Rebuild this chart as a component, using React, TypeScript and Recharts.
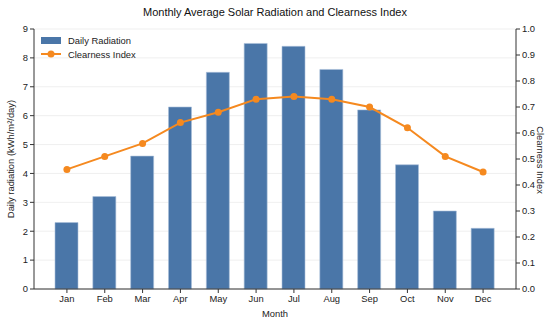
import { ComposedChart, Bar, Line, XAxis, YAxis, CartesianGrid } from 'recharts'

const months = ['Jan', 'Feb', 'Mar', 'Apr', 'May', 'Jun', 'Jul', 'Aug', 'Sep', 'Oct', 'Nov', 'Dec']
const radiation = [2.3, 3.2, 4.6, 6.3, 7.5, 8.5, 8.4, 7.6, 6.2, 4.3, 2.7, 2.1]
const clearness = [0.46, 0.51, 0.56, 0.64, 0.68, 0.73, 0.74, 0.73, 0.7, 0.62, 0.51, 0.45]
const leftTicks = [0, 1, 2, 3, 4, 5, 6, 7, 8, 9]
const rightTicks = [0, 0.1, 0.2, 0.3, 0.4, 0.5, 0.6, 0.7, 0.8, 0.9, 1.0]

const BLUE = '#4a76a8'
const ORANGE = '#f5891f'
const AXIS = '#333333'
const FONT = '"Liberation Sans", Arial, sans-serif'
const FS = 9.4

const data = months.map((m, i) => ({ month: m, radiation: radiation[i], clearness: clearness[i] }))

const tickStyle = { fontSize: FS, fill: '#222', fontFamily: FONT }

const textStyle = { position: 'absolute' as const, fontFamily: FONT, fontSize: FS, color: '#222', whiteSpace: 'nowrap' as const }

function LegendBox() {
  return (
    <div style={{ position: 'absolute', left: 41, top: 34, fontFamily: FONT, fontSize: FS, color: '#222', lineHeight: '13.5px' }}>
      <div style={{ display: 'flex', alignItems: 'center', height: 13.5 }}>
        <svg width={20} height={10} style={{ marginRight: 7 }}>
          <rect x={0} y={1} width={20} height={7} fill={BLUE} />
        </svg>
        Daily Radiation
      </div>
      <div style={{ display: 'flex', alignItems: 'center', height: 13.5 }}>
        <svg width={20} height={10} style={{ marginRight: 7 }}>
          <line x1={0} y1={5} x2={20} y2={5} stroke={ORANGE} strokeWidth={2} />
          <circle cx={10} cy={5} r={3.5} fill={ORANGE} />
        </svg>
        Clearness Index
      </div>
    </div>
  )
}

export default function App() {
  return (
    <div style={{ position: 'fixed', left: 0, top: 0, width: 550, height: 324, background: '#fff' }}>
      <ComposedChart width={550} height={324} data={data} margin={{ top: 29, right: 0, bottom: 0, left: 0 }}>
        <CartesianGrid yAxisId="left" vertical={false} stroke="#ebebeb" strokeWidth={0.8} />
        <XAxis
          dataKey="month"
          height={35}
          padding={{ left: 14, right: 14 }}
          tick={tickStyle}
          tickSize={4}
          tickMargin={2}
          stroke={AXIS}
          interval={0}
        />
        <YAxis
          yAxisId="left"
          width={34}
          domain={[0, 9]}
          ticks={leftTicks}
          tick={tickStyle}
          tickSize={4}
          tickMargin={2}
          stroke={AXIS}
        />
        <YAxis
          yAxisId="right"
          orientation="right"
          width={34}
          domain={[0, 1]}
          ticks={rightTicks}
          tickFormatter={(v: number) => v.toFixed(1)}
          tick={tickStyle}
          tickSize={4}
          tickMargin={2}
          stroke={AXIS}
        />
        <Bar
          yAxisId="left"
          dataKey="radiation"
          name="Daily Radiation"
          fill={BLUE}
          stroke="#a9c0da"
          strokeWidth={0.6}
          barSize={23}
          isAnimationActive={false}
        />
        <Line
          yAxisId="right"
          dataKey="clearness"
          name="Clearness Index"
          type="linear"
          stroke={ORANGE}
          strokeWidth={2}
          dot={{ r: 3.5, fill: ORANGE, stroke: ORANGE, strokeWidth: 0 }}
          isAnimationActive={false}
        />
      </ComposedChart>
      <div
        style={{
          position: 'absolute',
          top: 6,
          left: 0,
          width: 550,
          textAlign: 'center',
          fontFamily: FONT,
          fontSize: 11,
          color: '#111',
        }}
      >
        Monthly Average Solar Radiation and Clearness Index
      </div>
      <LegendBox />
      <div style={{ ...textStyle, left: 0, top: 308, width: 550, textAlign: 'center' }}>Month</div>
      <div
        style={{
          ...textStyle,
          left: 10,
          top: 159,
          transform: 'translate(-50%, -50%) rotate(-90deg)',
        }}
      >
        Daily radiation (kWh/m²/day)
      </div>
      <div
        style={{
          ...textStyle,
          left: 540,
          top: 160,
          transform: 'translate(-50%, -50%) rotate(90deg)',
        }}
      >
        Clearness Index
      </div>
    </div>
  )
}
